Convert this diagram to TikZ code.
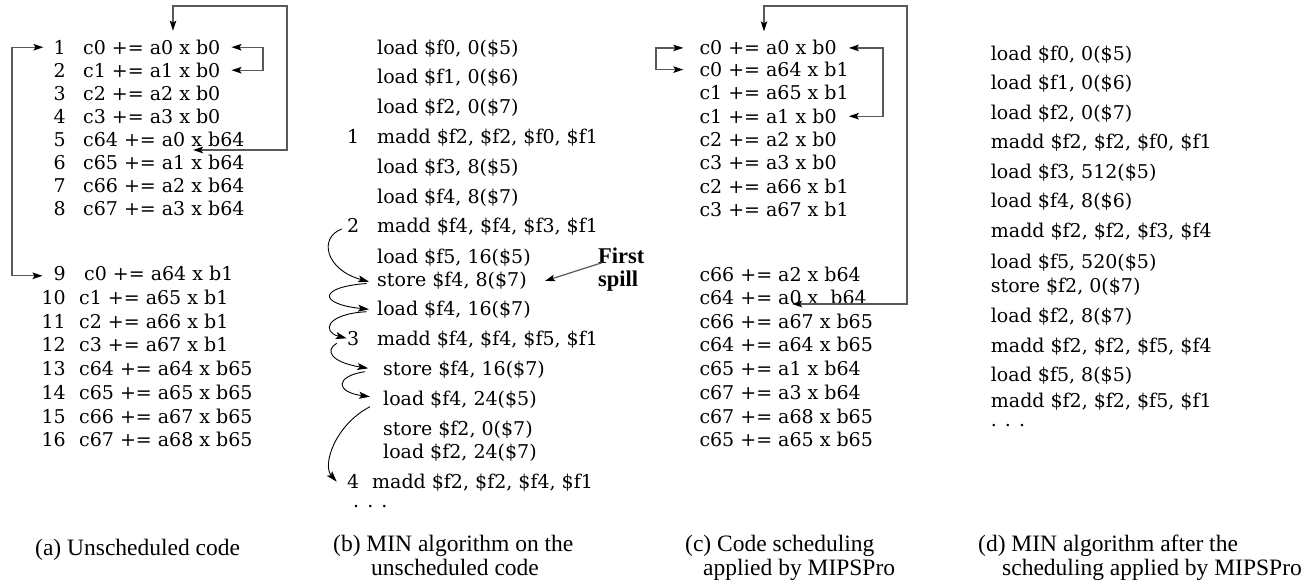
\documentclass[tikz,border=0pt]{standalone}
\usepackage{fontspec}
\setmainfont{DejaVu Serif}
\newfontfamily\capfont{Liberation Serif}
\usetikzlibrary{arrows.meta}

\tikzset{
  code/.style={anchor=base west, inner sep=0pt, font=\fontsize{19}{23}\selectfont},
  num/.style={code, anchor=base east},
  numl/.style={code},
  spilltxt/.style={anchor=base west, inner sep=0pt, font=\capfont\bfseries\fontsize{22.5}{24}\selectfont},
  captxt/.style={anchor=base west, inner sep=0pt, font=\capfont\fontsize{23.5}{26}\selectfont},
  link/.style={draw=black!65, line width=1.2pt,
    >={Stealth[length=10pt,width=6.5pt,inset=2pt,color=black]}},
  hop/.style={draw=black, line width=0.9pt,
    >={Stealth[length=11pt,width=7pt,inset=2.5pt]}},
}

\begin{document}
\begin{tikzpicture}[x=1pt,y=-1pt]
\useasboundingbox (0,0) rectangle (1311,585);

% ---------------- (a) unscheduled code ----------------
\node[num] (na1)  at (66,54.3)  {1};  \node[code] (ca1)  at (83,54.3)  {c0 += a0 x b0};
\node[num] (na2)  at (66,77.3)  {2};  \node[code] (ca2)  at (83,77.3)  {c1 += a1 x b0};
\node[num] (na3)  at (66,100.3) {3};  \node[code] (ca3)  at (83,100.3) {c2 += a2 x b0};
\node[num] (na4)  at (66,123.3) {4};  \node[code] (ca4)  at (83,123.3) {c3 += a3 x b0};
\node[num] (na5)  at (66,146.7) {5};  \node[code] (ca5)  at (83,146.7) {c64 += a0 x b64};
\node[num] (na6)  at (66,169.5) {6};  \node[code] (ca6)  at (83,169.5) {c65 += a1 x b64};
\node[num] (na7)  at (66,192.7) {7};  \node[code] (ca7)  at (83,192.7) {c66 += a2 x b64};
\node[num] (na8)  at (66,216)   {8};  \node[code] (ca8)  at (83,216)   {c67 += a3 x b64};
\node[num] (na9)  at (66,280.7) {9};  \node[code] (ca9)  at (84,280.7) {c0 += a64 x b1};
\node[num] (na10) at (66,304.3) {10}; \node[code] (ca10) at (79,304.3) {c1 += a65 x b1};
\node[num] (na11) at (66,328)   {11}; \node[code] (ca11) at (79,328)   {c2 += a66 x b1};
\node[num] (na12) at (66,351.7) {12}; \node[code] (ca12) at (79,351.7) {c3 += a67 x b1};
\node[num] (na13) at (66,375.7) {13}; \node[code] (ca13) at (79,375.7) {c64 += a64 x b65};
\node[num] (na14) at (66,399.3) {14}; \node[code] (ca14) at (79,399.3) {c65 += a65 x b65};
\node[num] (na15) at (66,423.3) {15}; \node[code] (ca15) at (79,423.3) {c66 += a67 x b65};
\node[num] (na16) at (66,446.7) {16}; \node[code] (ca16) at (79,446.7) {c67 += a68 x b65};

% loop-back arrows of (a)
\draw[link,<->] ([xshift=-10pt]na1.west) -| (12,160) |- ([xshift=-11pt,yshift=-2pt]na9.west);
\draw[link,<->] ([xshift=11pt]ca1.east) -| (263,60) |- ([xshift=11pt]ca2.east);
\coordinate (a5in) at (193,150);
\draw[link,<->] ([yshift=9pt]ca1.north -| 173,0) |- (287,6) |- (a5in);

% ---------------- (b) MIN on unscheduled code ----------------
\node[code] (b1)  at (377,55)    {load \$f0, 0(\$5)};
\node[code] (b2)  at (377,84)    {load \$f1, 0(\$6)};
\node[code] (b3)  at (377,113.3) {load \$f2, 0(\$7)};
\node[numl] (nb1) at (347,143.3) {1};
\node[code] (b4)  at (377,143.3) {madd \$f2, \$f2, \$f0, \$f1};
\node[code] (b5)  at (377,173.3) {load \$f3, 8(\$5)};
\node[code] (b6)  at (377,203.3) {load \$f4, 8(\$7)};
\node[numl] (nb2) at (347,232.3) {2};
\node[code] (b7)  at (377,232.3) {madd \$f4, \$f4, \$f3, \$f1};
\node[code] (b8)  at (377,263.3) {load \$f5, 16(\$5)};
\node[code] (b9)  at (377,286.7) {store \$f4, 8(\$7)};
\node[code] (b10) at (377,315.7) {load \$f4, 16(\$7)};
\node[numl] (nb3) at (347,345.7) {3};
\node[code] (b11) at (377,345.7) {madd \$f4, \$f4, \$f5, \$f1};
\node[code] (b12) at (383,375)   {store \$f4, 16(\$7)};
\node[code] (b13) at (383,405)   {load \$f4, 24(\$5)};
\node[code] (b14) at (383,435)   {store \$f2, 0(\$7)};
\node[code] (b15) at (383,458.3) {load \$f2, 24(\$7)};
\node[numl] (nb4) at (347,488.3) {4};
\node[code] (b16) at (372,488.3) {madd \$f2, \$f2, \$f4, \$f1};
\node[code] (bdots) at (353,507.5) {. . .};

\node[spilltxt] (first) at (598,263.3) {First};
\node[spilltxt] (spl)   at (598,286.7) {spill};
\draw[link,->] ([xshift=4pt,yshift=1pt]first.south west) -- ([xshift=18pt]b9.east);

% register hand-offs between spill/reload points
\coordinate (h0) at (341.7,229);
\coordinate (h1) at (369,281.7);
\coordinate (h1s) at (366.7,283.5);
\coordinate (h2) at (369,309.3);
\coordinate (h2s) at (366.7,311.7);
\coordinate (h3) at (346.7,338.3);
\coordinate (h3s) at (336.7,343.3);
\coordinate (h4) at (368.3,368.3);
\coordinate (h4s) at (365,371.7);
\coordinate (h5) at (370,396.7);
\coordinate (h5s) at (370,406.7);
\coordinate (h6) at (336.7,481.7);
\draw[hop,->] (h0)  .. controls (318,238) and (326,270) .. (h1);
\draw[hop,->] (h1s) .. controls (318,287) and (318,304) .. (h2);
\draw[hop,->] (h2s) .. controls (325,314) and (322,332) .. (h3);
\draw[hop,->] (h3s) .. controls (325,350) and (330,362) .. (h4);
\draw[hop,->] (h4s) .. controls (335,376) and (335,392) .. (h5);
\draw[hop,->] (h5s) .. controls (335,425) and (322,465) .. (h6);

% ---------------- (c) scheduled by MIPSPro ----------------
\node[code] (c1)  at (699.3,55)    {c0 += a0 x b0};
\node[code] (c2)  at (699.3,76.7)  {c0 += a64 x b1};
\node[code] (c3)  at (699.3,100)   {c1 += a65 x b1};
\node[code] (c4)  at (699.3,123.3) {c1 += a1 x b0};
\node[code] (c5)  at (699.3,146.7) {c2 += a2 x b0};
\node[code] (c6)  at (699.3,170)   {c3 += a3 x b0};
\node[code] (c7)  at (699.3,193.3) {c2 += a66 x b1};
\node[code] (c8)  at (699.3,216.7) {c3 += a67 x b1};
\node[code] (c9)  at (699.3,281.7) {c66 += a2 x b64};
\node[code] (c10) at (699.3,305)   {c64 += a0 x\hspace{6pt} b64};
\node[code] (c11) at (699.3,328.3) {c66 += a67 x b65};
\node[code] (c12) at (699.3,351.7) {c64 += a64 x b65};
\node[code] (c13) at (699.3,375)   {c65 += a1 x b64};
\node[code] (c14) at (699.3,399.3) {c67 += a3 x b64};
\node[code] (c15) at (699.3,423.3) {c67 += a68 x b65};
\node[code] (c16) at (699.3,446.7) {c65 += a65 x b65};

\coordinate (c10in) at (792,304);
\draw[link,<->] ([yshift=9pt]c1.north -| 764,0) |- (907,6) |- (c10in);
\draw[link,<->] ([xshift=-16pt]c1.west) -| (656,60) |- ([xshift=-16pt]c2.west);
\draw[link,<->] ([xshift=12pt]c1.east) -| (883,80) |- ([xshift=12pt]c1.east |- c4.east);

% ---------------- (d) MIN after scheduling ----------------
\node[code] (d1)  at (990.7,61)    {load \$f0, 0(\$5)};
\node[code] (d2)  at (990.7,90)    {load \$f1, 0(\$6)};
\node[code] (d3)  at (990.7,119.3) {load \$f2, 0(\$7)};
\node[code] (d4)  at (990.7,148.3) {madd \$f2, \$f2, \$f0, \$f1};
\node[code] (d5)  at (990.7,178.3) {load \$f3, 512(\$5)};
\node[code] (d6)  at (990.7,207.3) {load \$f4, 8(\$6)};
\node[code] (d7)  at (990.7,237.3) {madd \$f2, \$f2, \$f3, \$f4};
\node[code] (d8)  at (990.7,268.3) {load \$f5, 520(\$5)};
\node[code] (d9)  at (990.7,292.7) {store \$f2, 0(\$7)};
\node[code] (d10) at (990.7,322.7) {load \$f2, 8(\$7)};
\node[code] (d11) at (990.7,352.7) {madd \$f2, \$f2, \$f5, \$f4};
\node[code] (d12) at (990.7,381.7) {load \$f5, 8(\$5)};
\node[code] (d13) at (990.7,407.3) {madd \$f2, \$f2, \$f5, \$f1};
\node[code] (ddots) at (990.7,426) {. . .};

% ---------------- captions ----------------
\node[captxt] (capa)  at (35,555)   {(a) Unscheduled code};
\node[captxt] (capb1) at (333,551)  {(b) MIN algorithm on the};
\node[captxt] (capb2) at (371,575)  {unscheduled code};
\node[captxt] (capc1) at (685,551)  {(c) Code scheduling};
\node[captxt] (capc2) at (703,575)  {applied by MIPSPro};
\node[captxt] (capd1) at (978,551)  {(d) MIN algorithm after the};
\node[captxt] (capd2) at (1002,575) {scheduling applied by MIPSPro};
\end{tikzpicture}
\end{document}
